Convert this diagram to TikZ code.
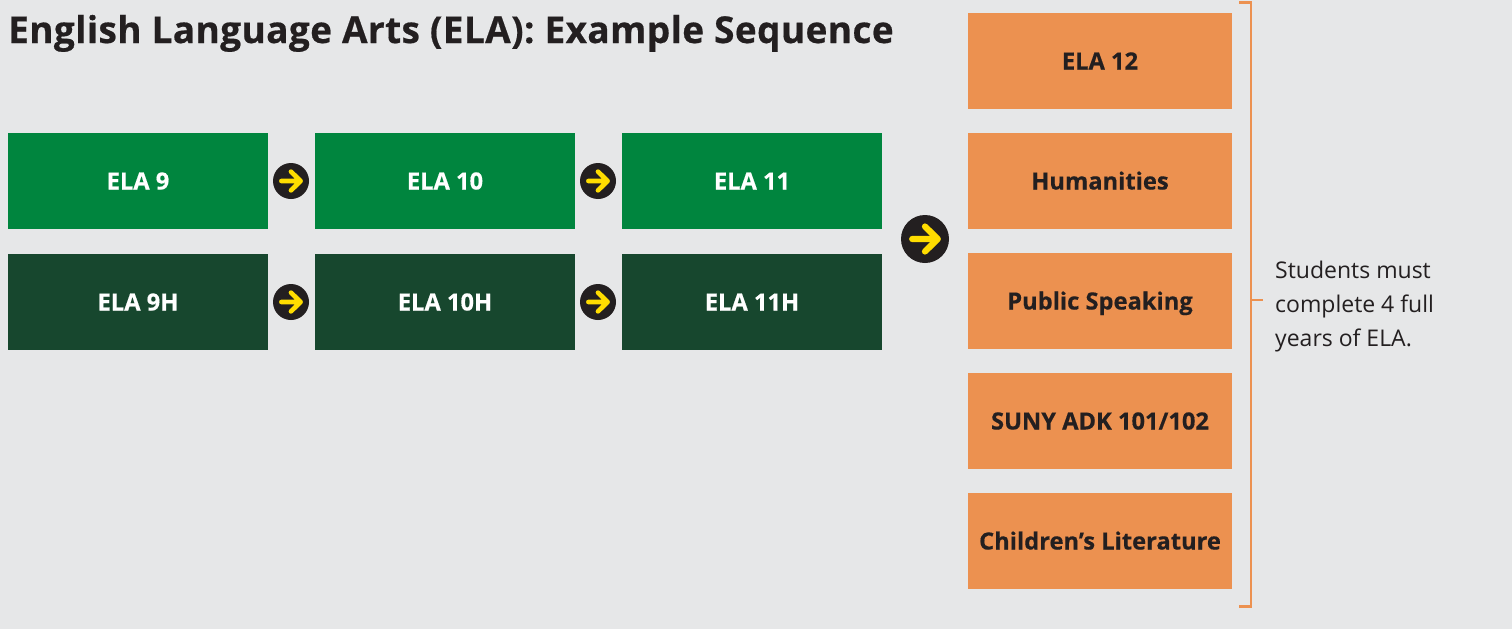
\documentclass[tikz,border=0pt]{standalone}
\usepackage{fontspec}
\setmainfont{Open Sans}
\newfontfamily\titlefont[LetterSpace=1,FakeBold=0.5]{Open Sans Bold}
\newfontfamily\boxfont[FakeBold=0.4]{Open Sans Bold}
\definecolor{bgc}{HTML}{E6E7E8}
\definecolor{ink}{HTML}{231F20}
\definecolor{gr}{HTML}{00853E}
\definecolor{dgr}{HTML}{17472E}
\definecolor{org}{HTML}{EC9150}
\definecolor{yel}{HTML}{FFDD00}
\tikzset{
  box/.style={minimum width=260pt,minimum height=96pt,inner sep=0pt,text height=20pt,text depth=3pt,font=\fontsize{23.7}{28}\boxfont\selectfont},
  greenbox/.style={box,fill=gr,text=white},
  darkbox/.style={box,fill=dgr,text=white},
  orangebox/.style={box,fill=org,text=ink,minimum width=264pt},
  disc/.style={circle,fill=ink,inner sep=0pt,minimum size=36pt},
  bigdisc/.style={circle,fill=ink,inner sep=0pt,minimum size=48pt},
  brk/.style={draw=org,line width=2.9pt},
  notetext/.style={anchor=base west,inner sep=0pt,text=ink,font=\fontsize{23}{34}\selectfont},
}
\newcommand{\yarrow}[2]{% node name, half length
  \draw[yel,line width=#2*0.39pt,line cap=round,line join=round]
    ([xshift=-#2*0.8pt]#1.center) -- ([xshift=#2*0.8pt]#1.center)
    ([yshift=#2*0.78pt]#1.center) -- ([xshift=#2*0.8pt]#1.center) -- ([yshift=-#2*0.78pt]#1.center);
}
\begin{document}
\begin{tikzpicture}[x=1pt,y=-1pt]
\path[fill=bgc,use as bounding box] (0,0) rectangle (1512,629);
\node[anchor=base west,inner sep=0pt,text=ink,font=\fontsize{37}{40}\titlefont\selectfont] (title) at (8,43) {English Language Arts (ELA): Example Sequence};
\node[greenbox] (a1) at (138,181) {ELA 9};
\node[greenbox] (a2) at (445,181) {ELA 10};
\node[greenbox] (a3) at (752,181) {ELA 11};
\node[darkbox] (b1) at (138,302) {ELA 9H};
\node[darkbox] (b2) at (445,302) {ELA 10H};
\node[darkbox] (b3) at (752,302) {ELA 11H};
\node[disc] (c1) at (291,181) {};
\node[disc] (c2) at (598,181) {};
\node[disc] (c3) at (291,302) {};
\node[disc] (c4) at (598,302) {};
\node[bigdisc] (c5) at (925,239) {};
\yarrow{c1}{12}\yarrow{c2}{12}\yarrow{c3}{12}\yarrow{c4}{12}\yarrow{c5}{16}
\node[orangebox] (o1) at (1100,61) {ELA 12};
\node[orangebox] (o2) at (1100,181) {Humanities};
\node[orangebox] (o3) at (1100,301) {Public Speaking};
\node[orangebox] (o4) at (1100,421) {SUNY ADK 101/102};
\node[orangebox] (o5) at (1100,541) {Children’s Literature};
\coordinate (bt) at (1239,2.5);
\coordinate (bb) at (1239,606.5);
\coordinate (bm) at (1251,300);
\coordinate (bn) at (1263,300);
\draw[brk] (bt) -- (1251,2.5) -- (1251,606.5) -- (bb);
\draw[brk] (bm) -- (bn);
\node[notetext] (n1) at (1275,278) {Students must};
\node[notetext] (n2) at (1275,312) {complete 4 full};
\node[notetext] (n3) at (1275,346) {years of ELA.};
\end{tikzpicture}
\end{document}
